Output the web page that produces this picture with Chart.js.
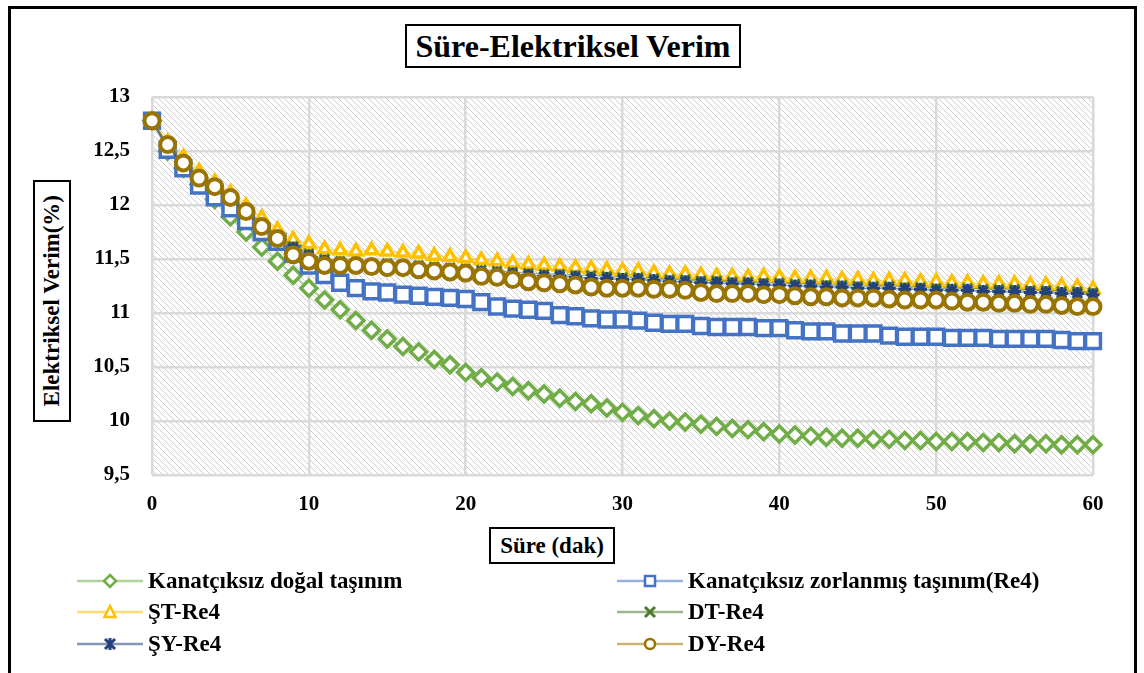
<!DOCTYPE html>
<html>
<head>
<meta charset="utf-8">
<script src="https://cdn.jsdelivr.net/npm/chart.js@4.4.1/dist/chart.umd.min.js"></script>
<style>
  html, body { margin: 0; padding: 0; background: #fff; }
  body { width: 1144px; height: 673px; position: relative; overflow: hidden;
         font-family: "Liberation Serif", "Times New Roman", serif; font-weight: bold; color: #000; }
  #frame { position: absolute; left: 8px; top: 6px; width: 1123px; height: 720px; border: 3px solid #000; }
  #chart { position: absolute; left: 0; top: 0; }
  .box { position: absolute; border: 2px solid #000; background: #fff; box-sizing: border-box;
         display: flex; align-items: center; justify-content: center; white-space: nowrap; }
  #title { left: 405px; top: 24px; width: 336px; height: 44px; font-size: 32px; }
  #ytitle { left: 33px; top: 180px; width: 38px; height: 242px; font-size: 23px; }
  #ytitle span { writing-mode: vertical-rl; transform: rotate(180deg); }
  #xtitle { left: 489px; top: 527px; width: 126px; height: 37px; font-size: 23px; }
  .leg { position: absolute; display: flex; align-items: center; font-size: 23px; white-space: nowrap; height: 24px; }
  .leg svg { margin-right: 5px; }
</style>
</head>
<body>
<div id="frame"></div>
<canvas id="chart" width="1144" height="673"></canvas>
<div class="box" id="title">Süre-Elektriksel Verim</div>
<div class="box" id="ytitle"><span>Elektriksel Verim(%)</span></div>
<div class="box" id="xtitle">Süre (dak)</div>
<div id="legend"></div>
<script>
// süre (dak)
const minutes = [0,1,2,3,4,5,6,7,8,9,10,11,12,13,14,15,16,17,18,19,20,21,22,23,24,25,26,27,28,29,30,
  31,32,33,34,35,36,37,38,39,40,41,42,43,44,45,46,47,48,49,50,51,52,53,54,55,56,57,58,59,60]

const dogal = [12.78,12.50,12.34,12.19,12.05,11.89,11.75,11.61,11.48,11.35,11.23,11.12,11.03,10.93,10.84,10.76,
  10.69,10.64,10.57,10.52,10.45,10.40,10.36,10.32,10.28,10.25,10.21,10.18,10.16,10.12,10.08,10.05,10.02,10.00,
  9.99,9.97,9.95,9.93,9.92,9.90,9.88,9.87,9.86,9.85,9.84,9.84,9.83,9.83,9.82,9.82,9.81,9.81,9.81,9.80,9.80,
  9.79,9.79,9.79,9.78,9.78,9.78]
const zorlanmis = [12.78,12.51,12.34,12.18,12.07,11.97,11.85,11.75,11.66,11.55,11.44,11.35,11.28,11.23,11.20,
  11.19,11.17,11.16,11.15,11.14,11.13,11.10,11.06,11.04,11.03,11.02,10.98,10.97,10.95,10.94,10.94,10.93,10.91,
  10.90,10.90,10.88,10.87,10.87,10.87,10.86,10.86,10.84,10.83,10.83,10.81,10.81,10.81,10.79,10.78,10.78,10.78,
  10.77,10.77,10.77,10.76,10.76,10.76,10.76,10.75,10.74,10.74]
const stRe4 = [12.78,12.58,12.44,12.31,12.21,12.11,11.99,11.88,11.77,11.68,11.64,11.59,11.58,11.57,11.58,11.57,
  11.56,11.55,11.53,11.52,11.51,11.49,11.48,11.46,11.45,11.44,11.43,11.42,11.41,11.40,11.39,11.39,11.37,11.36,
  11.36,11.35,11.34,11.34,11.33,11.34,11.33,11.32,11.32,11.32,11.31,11.31,11.30,11.30,11.30,11.29,11.29,11.28,
  11.28,11.27,11.27,11.27,11.26,11.26,11.25,11.24,11.22]
const dtRe4 = [12.78,12.55,12.40,12.27,12.17,12.07,11.95,11.83,11.72,11.62,11.55,11.50,11.48,11.47,11.46,11.46,
  11.45,11.44,11.43,11.42,11.41,11.40,11.39,11.38,11.37,11.36,11.36,11.35,11.35,11.34,11.33,11.33,11.32,11.31,
  11.31,11.30,11.30,11.29,11.29,11.28,11.28,11.27,11.27,11.26,11.26,11.25,11.25,11.25,11.24,11.24,11.23,11.23,
  11.23,11.22,11.22,11.22,11.21,11.21,11.20,11.20,11.19]
const syRe4 = [12.78,12.54,12.38,12.25,12.15,12.05,11.93,11.81,11.70,11.60,11.53,11.48,11.46,11.45,11.44,11.44,
  11.43,11.42,11.41,11.40,11.39,11.38,11.37,11.36,11.35,11.34,11.34,11.33,11.32,11.32,11.31,11.31,11.30,11.29,
  11.29,11.28,11.28,11.27,11.27,11.26,11.26,11.25,11.25,11.24,11.24,11.23,11.23,11.23,11.22,11.22,11.21,11.21,
  11.21,11.20,11.20,11.20,11.19,11.19,11.18,11.18,11.17]
const dyRe4 = [12.78,12.56,12.39,12.25,12.17,12.07,11.94,11.80,11.69,11.54,11.48,11.44,11.44,11.44,11.43,11.42,
  11.42,11.40,11.39,11.38,11.37,11.34,11.33,11.31,11.29,11.28,11.27,11.26,11.24,11.23,11.23,11.23,11.22,11.22,
  11.21,11.19,11.18,11.18,11.18,11.17,11.17,11.16,11.15,11.15,11.14,11.14,11.14,11.13,11.12,11.12,11.12,11.11,
  11.10,11.10,11.09,11.09,11.08,11.08,11.07,11.06,11.06]

const seriesNames = ['Kanatçıksız doğal taşınım', 'Kanatçıksız zorlanmış taşınım(Re4)',
  'ŞT-Re4', 'DT-Re4', 'ŞY-Re4', 'DY-Re4']
const seriesValues = [dogal, zorlanmis, stRe4, dtRe4, syRe4, dyRe4]
const xTicks = [0, 10, 20, 30, 40, 50, 60]
const yTicks = [9.5, 10, 10.5, 11, 11.5, 12, 12.5, 13]

// marker styles, same order as the series
const styles = [
  { color: '#70AD47', line: 'rgba(112,173,71,0.55)', shape: 'rectRot', r: 8, w: 3.5 },
  { color: '#4472C4', line: 'rgba(68,114,196,0.55)', shape: 'rect', r: 10.5, w: 3.5 },
  { color: '#FFC000', line: 'rgba(255,192,0,0.55)', shape: 'triangle', r: 7, w: 3.5 },
  { color: '#4E7A2E', line: 'rgba(78,122,46,0.55)', shape: 'crossRot', r: 6.5, w: 3 },
  { color: '#23417A', line: 'rgba(35,65,122,0.55)', shape: 'star', r: 6.5, w: 3 },
  { color: '#9A7400', line: 'rgba(154,116,0,0.55)', shape: 'circle', r: 7.5, w: 4 }
]

const datasets = seriesNames.map((name, i) => ({
  label: name,
  data: minutes.map((m, j) => ({ x: m, y: seriesValues[i][j] })),
  borderColor: styles[i].line,
  borderWidth: 1.5,
  pointStyle: styles[i].shape,
  pointRadius: styles[i].r,
  pointBorderWidth: styles[i].w,
  pointBorderColor: styles[i].color,
  pointBackgroundColor: '#fff',
  order: 6 - i,
  clip: false
}))

function hatch() {
  const p = document.createElement('canvas')
  p.width = 6; p.height = 6
  const c = p.getContext('2d')
  c.strokeStyle = '#cdcdcd'
  c.lineWidth = 1
  c.beginPath()
  c.moveTo(-1, -1); c.lineTo(7, 7)
  c.moveTo(-1, 5); c.lineTo(1, 7)
  c.moveTo(5, -1); c.lineTo(7, 1)
  c.stroke()
  return p
}

const hatchPlugin = {
  id: 'hatch',
  beforeDraw(chart) {
    const { ctx, chartArea: a } = chart
    ctx.save()
    ctx.fillStyle = ctx.createPattern(hatch(), 'repeat')
    ctx.fillRect(a.left, a.top, a.right - a.left, a.bottom - a.top)
    ctx.restore()
  }
}

Chart.defaults.font.family = '"Liberation Serif", "Times New Roman", serif'
Chart.defaults.font.weight = 'bold'
Chart.defaults.font.size = 21
Chart.defaults.color = '#000'

const chart = new Chart(document.getElementById('chart'), {
  type: 'line',
  data: { datasets },
  options: {
    responsive: false,
    animation: false,
    layout: { padding: { left: 92, right: 51, top: 97, bottom: 148 } },
    plugins: { legend: { display: false }, tooltip: { enabled: false } },
    scales: {
      x: {
        type: 'linear', min: 0, max: 60,
        afterFit: s => { s.height = 50 },
        afterBuildTicks: s => { s.ticks = xTicks.map(v => ({ value: v })) },
        grid: { color: '#d9d9d9', lineWidth: 2.5, drawTicks: false },
        border: { display: false },
        ticks: { padding: 17 }
      },
      y: {
        min: 9.5, max: 13,
        afterFit: s => { s.width = 60 },
        afterBuildTicks: s => { s.ticks = yTicks.map(v => ({ value: v })) },
        grid: { color: '#d9d9d9', lineWidth: 2.5, drawTicks: false },
        border: { display: false },
        ticks: { padding: 22, callback: v => String(v).replace('.', ',') }
      }
    }
  },
  plugins: [hatchPlugin]
})

// legend in two columns, like the original
function icon(st) {
  const c = st.color
  let m = ''
  if (st.shape === 'rectRot') m = `<polygon points="33,4 39,10 33,16 27,10" fill="#fff" stroke="${c}" stroke-width="2.5"/>`
  else if (st.shape === 'rect') m = `<rect x="28" y="5" width="10" height="10" fill="#fff" stroke="${c}" stroke-width="2.5"/>`
  else if (st.shape === 'triangle') m = `<polygon points="33,4 38.5,15 27.5,15" fill="#fff" stroke="${c}" stroke-width="2.5"/>`
  else if (st.shape === 'crossRot') m = `<path d="M28,5 L38,15 M38,5 L28,15" stroke="${c}" stroke-width="3"/>`
  else if (st.shape === 'star') m = `<path d="M28,5 L38,15 M38,5 L28,15 M33,4 L33,16" stroke="${c}" stroke-width="3"/>`
  else m = `<circle cx="33" cy="10" r="5" fill="#fff" stroke="${c}" stroke-width="2.5"/>`
  return `<svg width="66" height="20"><line x1="0" y1="10" x2="66" y2="10" stroke="${st.line}" stroke-width="2.5"/>${m}</svg>`
}

const legendCols = [77, 617]
const legendRows = [581, 612, 644]
const legend = document.getElementById('legend')
chart.data.datasets.forEach((ds, i) => {
  const el = document.createElement('div')
  el.className = 'leg'
  el.style.left = legendCols[i % 2] + 'px'
  el.style.top = (legendRows[Math.floor(i / 2)] - 12) + 'px'
  el.innerHTML = icon(styles[i]) + '<span>' + ds.label + '</span>'
  legend.appendChild(el)
})
</script>
</body>
</html>
